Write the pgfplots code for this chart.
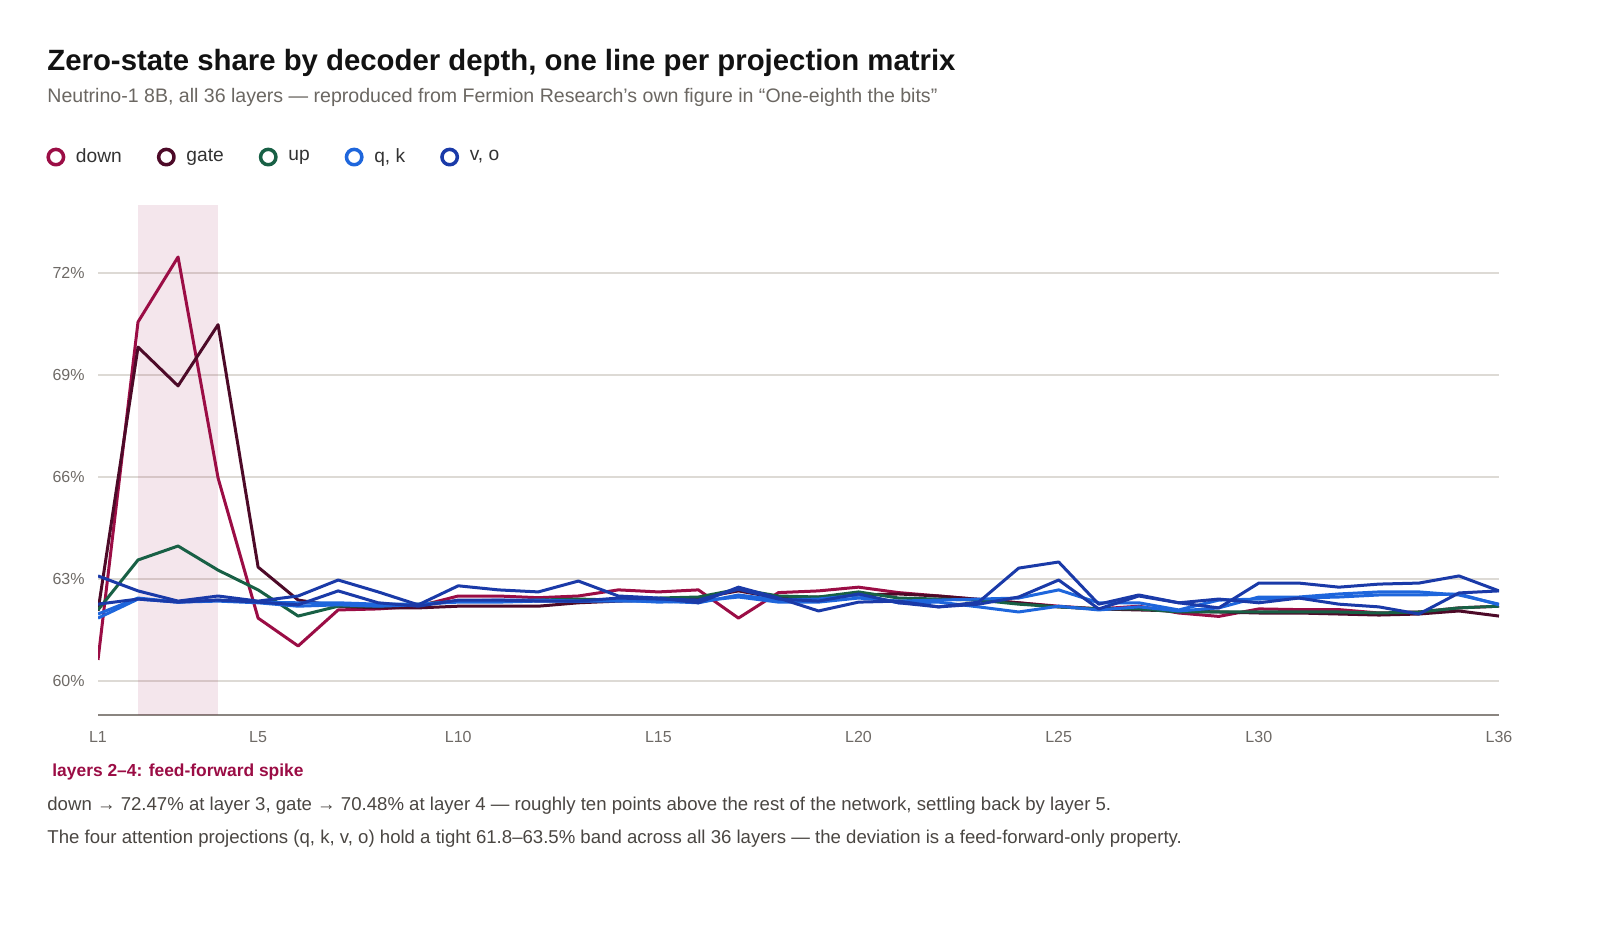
\documentclass[border=0pt]{standalone}
\usepackage{pgfplots}
\pgfplotsset{compat=1.18}
\usepackage{pgfplotstable}
\usepackage{fontspec}
\setmainfont{Liberation Sans}
\definecolor{cdown}{HTML}{9B0D45}
\definecolor{cgate}{HTML}{4D0A28}
\definecolor{cup}{HTML}{186045}
\definecolor{cqk}{HTML}{1E66DC}
\definecolor{cvo}{HTML}{1A3AA8}
\definecolor{gridc}{HTML}{DDDAD5}
\definecolor{tickc}{HTML}{6E6A66}
\definecolor{axc}{HTML}{8A8580}
\definecolor{subc}{HTML}{6B6762}
\definecolor{bodyc}{HTML}{4A4642}
\definecolor{legc}{HTML}{333333}
\pgfplotstableread{
L down gate up q k v o
1 60.62 62.06 62.09 61.85 61.97 63.09 62.26
2 70.56 69.82 63.56 62.41 62.44 62.65 62.41
3 72.47 68.68 63.97 62.32 62.32 62.35 62.32
4 65.97 70.48 63.26 62.35 62.38 62.50 62.38
5 61.85 63.35 62.68 62.30 62.32 62.35 62.32
6 61.03 62.38 61.91 62.20 62.30 62.50 62.24
7 62.09 62.20 62.20 62.24 62.30 62.97 62.65
8 62.12 62.15 62.20 62.20 62.26 62.62 62.30
9 62.20 62.15 62.26 62.24 62.26 62.24 62.20
10 62.50 62.20 62.35 62.35 62.32 62.80 62.38
11 62.50 62.20 62.35 62.38 62.32 62.68 62.38
12 62.45 62.20 62.38 62.38 62.35 62.62 62.35
13 62.50 62.30 62.41 62.35 62.35 62.94 62.35
14 62.68 62.35 62.38 62.35 62.38 62.50 62.44
15 62.62 62.38 62.44 62.35 62.32 62.44 62.41
16 62.68 62.44 62.47 62.30 62.35 62.30 62.38
17 61.85 62.65 62.70 62.53 62.47 62.76 62.70
18 62.60 62.44 62.50 62.38 62.32 62.44 62.41
19 62.65 62.47 62.47 62.41 62.32 62.06 62.35
20 62.76 62.53 62.62 62.53 62.44 62.32 62.56
21 62.60 62.56 62.44 62.30 62.35 62.35 62.30
22 62.50 62.50 62.41 62.32 62.38 62.18 62.18
23 62.40 62.40 62.38 62.18 62.41 62.32 62.26
24 62.30 62.30 62.26 62.03 62.44 63.32 62.47
25 62.20 62.18 62.18 62.20 62.68 63.50 62.97
26 62.12 62.12 62.12 62.09 62.30 62.26 62.12
27 62.20 62.09 62.12 62.18 62.30 62.53 62.50
28 62.00 62.06 62.03 62.06 62.09 62.30 62.30
29 61.90 62.03 62.03 62.15 62.38 62.15 62.41
30 62.12 62.00 62.03 62.47 62.41 62.88 62.30
31 62.10 62.00 62.03 62.47 62.44 62.88 62.44
32 62.10 61.97 62.03 62.56 62.47 62.76 62.26
33 62.00 61.94 62.00 62.62 62.53 62.85 62.18
34 62.03 61.97 62.03 62.62 62.53 62.88 61.97
35 62.15 62.06 62.15 62.53 62.56 63.09 62.59
36 62.20 61.91 62.20 62.26 62.24 62.65 62.65
}\datatable
\begin{document}
\begin{tikzpicture}
\fill[white] (0,0) rectangle (800pt,-470pt);
\useasboundingbox (0,0) rectangle (800pt,-470pt);
\node[anchor=base west, inner sep=0pt, font=\bfseries\fontsize{14.67pt}{17pt}\selectfont, text=black!93] at (23.5pt,-35.5pt) {Zero-state share by decoder depth, one line per projection matrix};
\node[anchor=base west, inner sep=0pt, font=\fontsize{9.78pt}{12pt}\selectfont, text=subc] at (23.5pt,-51.5pt) {Neutrino-1 8B, all 36 layers — reproduced from Fermion Research's own figure in “One-eighth the bits”};
\begin{axis}[
  scale only axis,
  width=700.5pt, height=255pt,
  at={(49pt,-357.5pt)}, anchor=south west,
  xmin=1, xmax=36, ymin=59, ymax=74,
  axis x line*=bottom,
  axis y line*=left,
  y axis line style={draw=none},
  x axis line style={draw=axc, line width=1pt},
  xtick={1,5,10,15,20,25,30,36},
  xticklabels={L1,L5,L10,L15,L20,L25,L30,L36},
  ytick={60,63,66,69,72},
  yticklabels={60\%,63\%,66\%,69\%,72\%},
  major tick length=0pt,
  ymajorgrids,
  grid style={draw=gridc, line width=0.8pt},
  tick label style={font=\fontsize{8pt}{10pt}\selectfont, text=tickc},
  yticklabel style={inner sep=0pt, anchor=east, xshift=-6.5pt},
  xticklabel style={inner sep=0pt, anchor=north, yshift=-8pt},
  legend columns=-1,
  legend style={at={(-0.0371,1.094)}, anchor=west, draw=none, fill=none,
    font=\fontsize{9.6pt}{11pt}\selectfont, text=legc, inner sep=0pt,
    /tikz/every even column/.append style={column sep=16.5pt},
    nodes={inner sep=1pt}},
  legend image code/.code={\path[draw=none] (0,0) -- (13.75pt,0);\draw[line width=1.75pt] (4.7pt,0) circle (3.85pt);},
  every axis plot/.append style={line width=1.5pt, line join=round},
]
\addplot[fill=cdown, fill opacity=0.1, draw=none, forget plot] coordinates {(2,59) (4,59) (4,74) (2,74)} -- cycle;
\addplot[color=cdown] table[x=L, y=down] {\datatable};
\addlegendentry{down}
\addplot[color=cgate] table[x=L, y=gate] {\datatable};
\addlegendentry{gate}
\addplot[color=cup] table[x=L, y=up] {\datatable};
\addlegendentry{up}
\addplot[color=cqk] table[x=L, y=q] {\datatable};
\addlegendentry{q, k}
\addplot[color=cqk, forget plot] table[x=L, y=k] {\datatable};
\addplot[color=cvo] table[x=L, y=v] {\datatable};
\addlegendentry{v, o}
\addplot[color=cvo, forget plot] table[x=L, y=o] {\datatable};
\end{axis}
\node[anchor=base west, inner sep=0pt, font=\bfseries\fontsize{8.7pt}{10pt}\selectfont, text=cdown] at (26pt,-388pt) {layers 2–4: feed-forward spike};
\node[anchor=base west, inner sep=0pt, font=\fontsize{9.3pt}{11pt}\selectfont, text=bodyc] at (23.5pt,-405pt) {down → 72.47\% at layer 3, gate → 70.48\% at layer 4 — roughly ten points above the rest of the network, settling back by layer 5.};
\node[anchor=base west, inner sep=0pt, font=\fontsize{9.3pt}{11pt}\selectfont, text=bodyc] at (23.5pt,-421.5pt) {The four attention projections (q, k, v, o) hold a tight 61.8–63.5\% band across all 36 layers — the deviation is a feed-forward-only property.};
\end{tikzpicture}
\end{document}
